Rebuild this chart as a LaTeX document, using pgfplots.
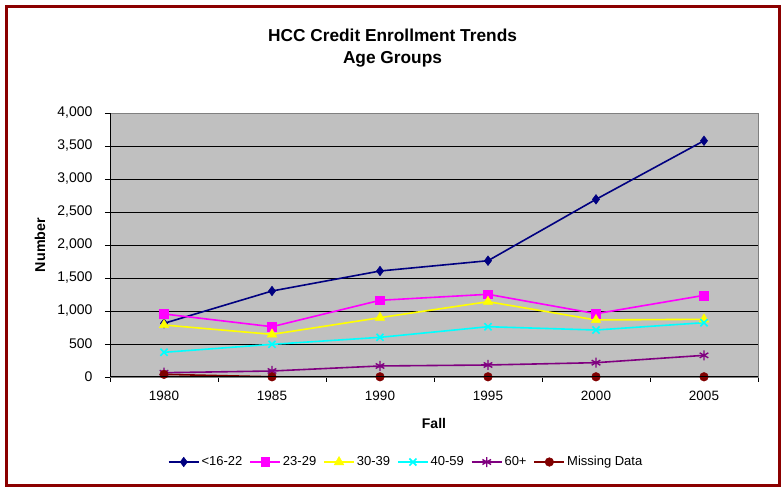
\documentclass[border=0pt]{standalone}
\usepackage{pgfplots}
\pgfplotsset{compat=1.18}
\usepackage{fontspec}
\setmainfont{Liberation Sans}
\definecolor{cnavy}{HTML}{000080}
\definecolor{cmag}{HTML}{FF00FF}
\definecolor{cyel}{HTML}{FFFF00}
\definecolor{ccyan}{HTML}{00FFFF}
\definecolor{cpurp}{HTML}{800080}
\definecolor{cdred}{HTML}{800000}
\definecolor{plotgray}{HTML}{C0C0C0}
\definecolor{framecol}{HTML}{8B0000}
\begin{document}
\begin{tikzpicture}[x=1pt,y=1pt]
\path[use as bounding box] (0,0) rectangle (781,487);
\draw[color=framecol, line width=3pt] (6.5,1.5) rectangle (779.5,480.5);
\node[font=\bfseries\fontsize{17.3}{20}\selectfont, anchor=base] at (392.5,445) {HCC Credit Enrollment Trends};
\node[font=\bfseries\fontsize{17.3}{20}\selectfont, anchor=base] at (392.5,423) {Age Groups};
\begin{axis}[
  at={(110pt,110pt)}, anchor=south west,
  scale only axis, width=648pt, height=264pt,
  xmin=-0.5, xmax=5.5, ymin=0, ymax=4000,
  xtick={0,...,5}, xticklabels={1980,1985,1990,1995,2000,2005},
  minor xtick={-0.5,0.5,...,5.5},
  ytick={0,500,...,4000},
  scaled y ticks=false,
  /pgf/number format/1000 sep={,},
  /pgf/number format/assume math mode=true,
  ymajorgrids, grid style={black, line width=0.9pt},
  axis background/.style={fill=plotgray},
  axis line style={draw=gray, line width=0.9pt},
  tick align=outside, major tick length=5pt, minor tick length=5pt,
  tick style={black, line width=0.9pt},
  major x tick style={draw=none},
  xtick pos=bottom, ytick pos=left,
  xticklabel style={font=\fontsize{13.5}{15}\selectfont, yshift=-6pt},
  yticklabel style={font=\fontsize{14}{16}\selectfont, xshift=-9pt},
  xlabel={Fall}, ylabel={Number},
  every axis x label/.style={at={(rel axis cs:0.5,0)}, yshift=-46pt, anchor=center, font=\bfseries\fontsize{14}{16}\selectfont},
  every axis y label/.style={at={(rel axis cs:0,0.5)}, xshift=-70pt, rotate=90, anchor=center, font=\bfseries\fontsize{14.3}{16}\selectfont},
  legend columns=6,
  legend style={at={(rel axis cs:0.457,-0.322)}, anchor=center, draw=none, fill=none,
    font=\fontsize{13}{15}\selectfont,
    /tikz/every even column/.append style={column sep=5pt}},
  legend image code/.code={\draw[mark repeat=2,mark phase=2] plot coordinates {(0pt,0pt) (15pt,0pt) (30pt,0pt)};},
  every axis plot/.append style={line width=1.6pt},
  after end axis/.code={\draw[black, line width=1pt] (rel axis cs:0,1) -- (rel axis cs:0,0) -- (rel axis cs:1,0);},
]
\addplot[color=cnavy, mark=diamond*, mark size=4.8pt, mark options={fill=cnavy, line width=0.5pt}]
  coordinates {(0,813) (1,1303) (2,1606) (3,1762) (4,2692) (5,3580)};
\addlegendentry{<16-22}
\addplot[color=cmag, mark=square*, mark size=4.4pt, mark options={fill=cmag, line width=0.5pt}]
  coordinates {(0,955) (1,762) (2,1162) (3,1253) (4,959) (5,1237)};
\addlegendentry{23-29}
\addplot[color=cyel, mark=triangle*, mark size=5.5pt, mark options={fill=cyel, line width=0.5pt}]
  coordinates {(0,788) (1,646) (2,899) (3,1141) (4,864) (5,874)};
\addlegendentry{30-39}
\addplot[color=ccyan, mark=x, mark size=5pt, mark options={line width=1.6pt}]
  coordinates {(0,374) (1,495) (2,601) (3,762) (4,712) (5,823)};
\addlegendentry{40-59}
\addplot[color=cpurp, mark=asterisk, mark size=5pt, mark options={line width=1.4pt}]
  coordinates {(0,65) (1,91) (2,167) (3,182) (4,217) (5,328)};
\addlegendentry{60+}
\addplot[color=cdred, mark=*, mark size=4.3pt, mark options={fill=cdred, line width=0.5pt}]
  coordinates {(0,40) (1,3) (2,3) (3,3) (4,3) (5,3)};
\addlegendentry{Missing Data}
\end{axis}
\end{tikzpicture}
\end{document}
